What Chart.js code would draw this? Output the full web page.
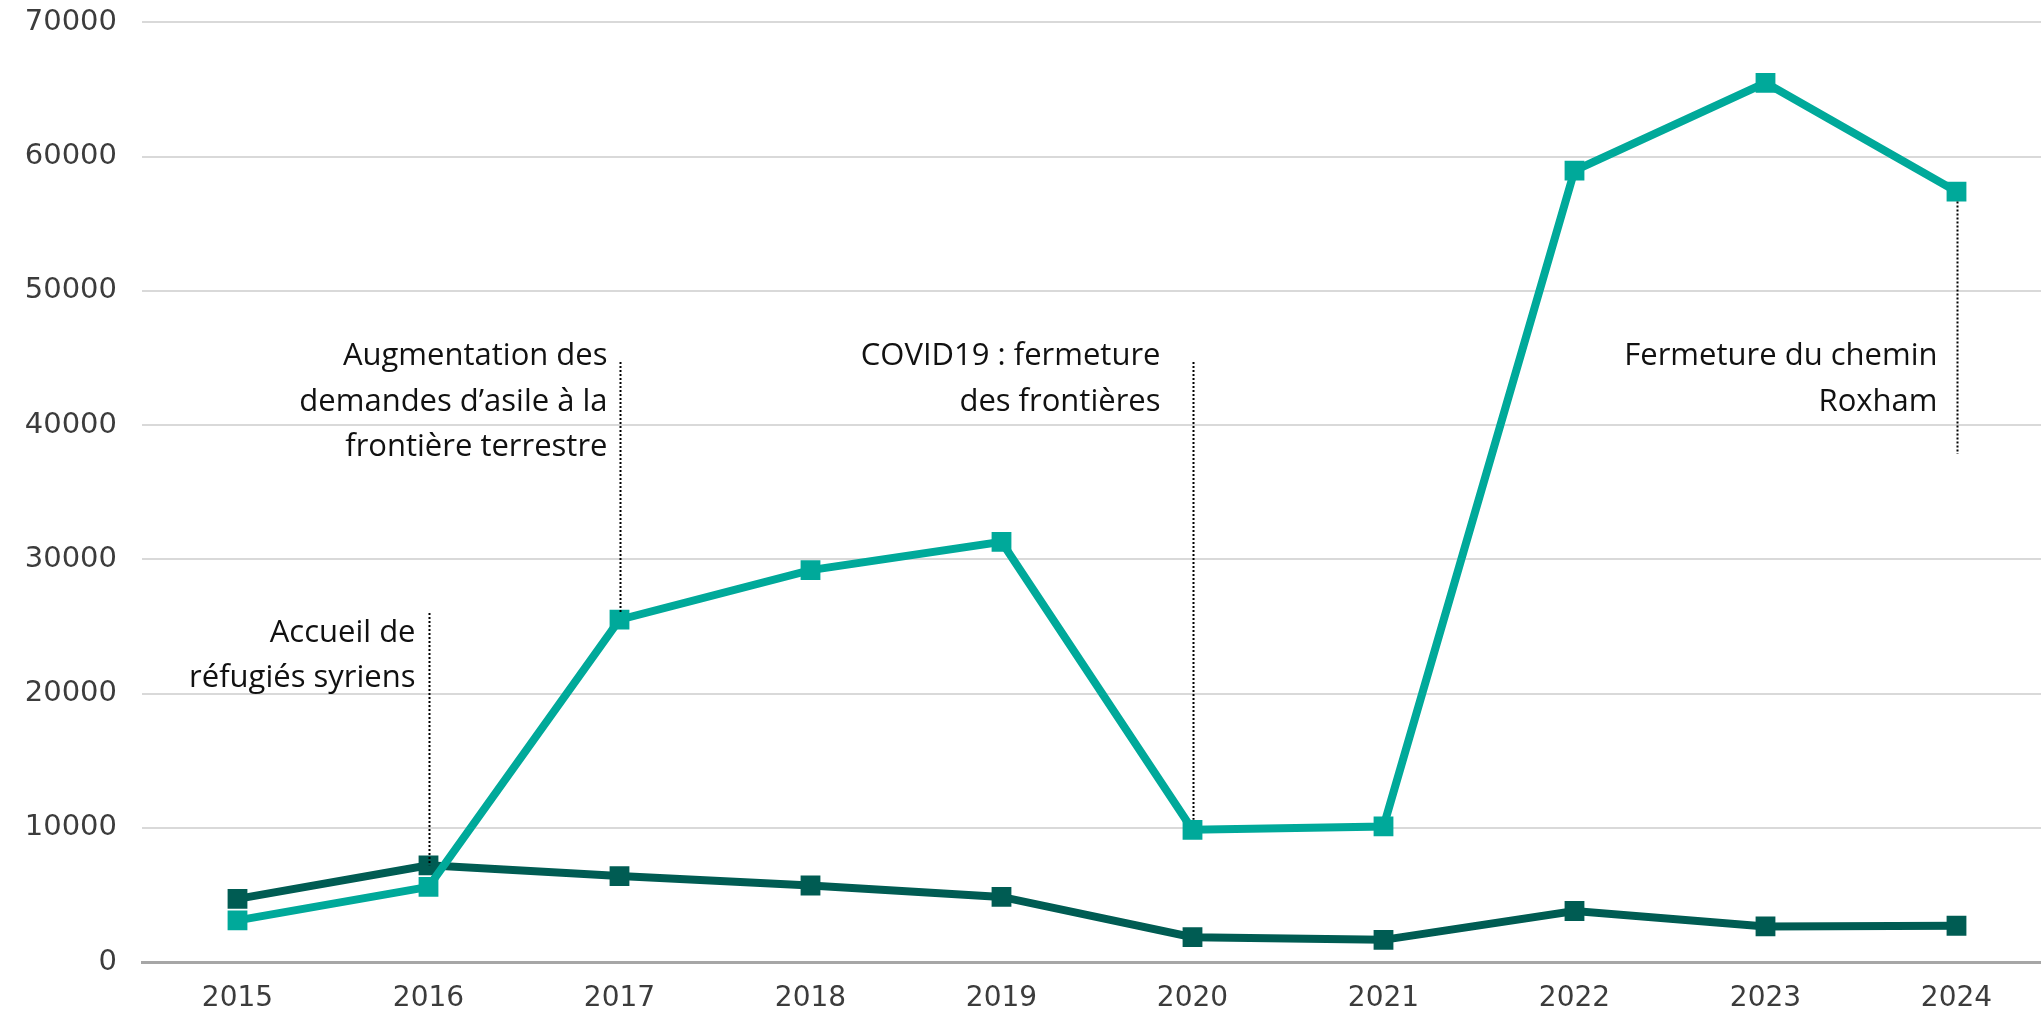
<!DOCTYPE html>
<html lang="fr">
<head>
  <meta charset="UTF-8" />
  <title>Demandes d'asile</title>
  <script src="https://cdn.jsdelivr.net/npm/chart.js"></script>
  <style>
    html, body { margin: 0; padding: 0; background: #fff; overflow: hidden; }
    #wrap { width: 2066px; height: 1030px; margin-top: -20px; }
  </style>
</head>
<body>
<div id="wrap"><canvas id="chart"></canvas></div>

<script>
  // categories and values
  const years = ["2015", "2016", "2017", "2018", "2019", "2020", "2021", "2022", "2023", "2024"];
  const asylumClaims = [3100, 5600, 25500, 29200, 31300, 9850, 10100, 58950, 65500, 57400];
  const resettled = [4700, 7200, 6400, 5700, 4850, 1850, 1650, 3800, 2650, 2700];
  const yTicks = [0, 10000, 20000, 30000, 40000, 50000, 60000, 70000];

  // annotation texts, anchored to a year; from/to/textAt are in data units
  const notes = [
    { year: "2016", lines: ["Accueil de", "réfugiés syriens"], from: 26000, to: 7200, textAt: 23850, gap: 14 },
    { year: "2017", lines: ["Augmentation des", "demandes d’asile à la", "frontière terrestre"], from: 44700, to: 26000, textAt: 44450, gap: 13 },
    { year: "2020", lines: ["COVID19 : fermeture", "des frontières"], from: 44700, to: 10600, textAt: 44450, gap: 33 },
    { year: "2024", lines: ["Fermeture du chemin", "Roxham"], from: 56650, to: 37850, textAt: 44450, gap: 20 }
  ];

  const notesPlugin = {
    id: "notes",
    afterDatasetsDraw(chart) {
      const { ctx, scales: { x, y } } = chart;
      ctx.save();
      notes.forEach(n => {
        const px = Math.round(x.getPixelForValue(years.indexOf(n.year))) + 0.5;
        ctx.beginPath();
        ctx.setLineDash([2, 2]);
        ctx.lineWidth = 2;
        ctx.strokeStyle = "#000";
        ctx.moveTo(px, y.getPixelForValue(n.from));
        ctx.lineTo(px, y.getPixelForValue(n.to));
        ctx.stroke();
        ctx.setLineDash([]);
        ctx.fillStyle = "#111";
        ctx.font = "400 31px 'Open Sans', Lato, sans-serif";
        ctx.textAlign = "right";
        ctx.textBaseline = "alphabetic";
        const y0 = y.getPixelForValue(n.textAt);
        n.lines.forEach((t, i) => ctx.fillText(t, px - n.gap, y0 + i * 45.5));
      });
      ctx.restore();
    }
  };

  new Chart(document.getElementById("chart"), {
    type: "line",
    data: {
      labels: years,
      datasets: [
        {
          label: "Demandes d'asile",
          data: asylumClaims,
          borderColor: "#00a99a",
          backgroundColor: "#00a99a",
          borderWidth: 8,
          pointStyle: "rect",
          pointRadius: 14,
          pointBorderWidth: 0,
          tension: 0
        },
        {
          label: "Réfugiés réinstallés",
          data: resettled,
          borderColor: "#005c53",
          backgroundColor: "#005c53",
          borderWidth: 8,
          pointStyle: "rect",
          pointRadius: 14,
          pointBorderWidth: 0,
          tension: 0
        }
      ]
    },
    options: {
      responsive: true,
      maintainAspectRatio: false,
      animation: false,
      layout: { padding: { top: 2, right: 0, left: 0, bottom: 0 } },
      plugins: { legend: { display: false }, tooltip: { enabled: false } },
      scales: {
        x: {
          offset: true,
          grid: { display: false, drawTicks: false },
          border: { display: true, color: "#a6a6a6", width: 3 },
          ticks: { color: "#3c3c3c", font: { family: "DejaVu Sans", size: 28 }, padding: 20, maxRotation: 0 },
          afterFit(scale) { scale.height = 48; }
        },
        y: {
          min: 0,
          max: 70000,
          afterBuildTicks(scale) { scale.ticks = yTicks.map(v => ({ value: v })); },
          grid: { color: "#d9d9d9", lineWidth: 2, drawTicks: false },
          border: { display: false },
          ticks: {
            color: "#3c3c3c",
            font: { family: "DejaVu Sans", size: 29 },
            padding: 25,
            callback: v => String(v)
          },
          afterFit(scale) { scale.width = 142; }
        }
      }
    },
    plugins: [notesPlugin]
  });
</script>
</body>
</html>
